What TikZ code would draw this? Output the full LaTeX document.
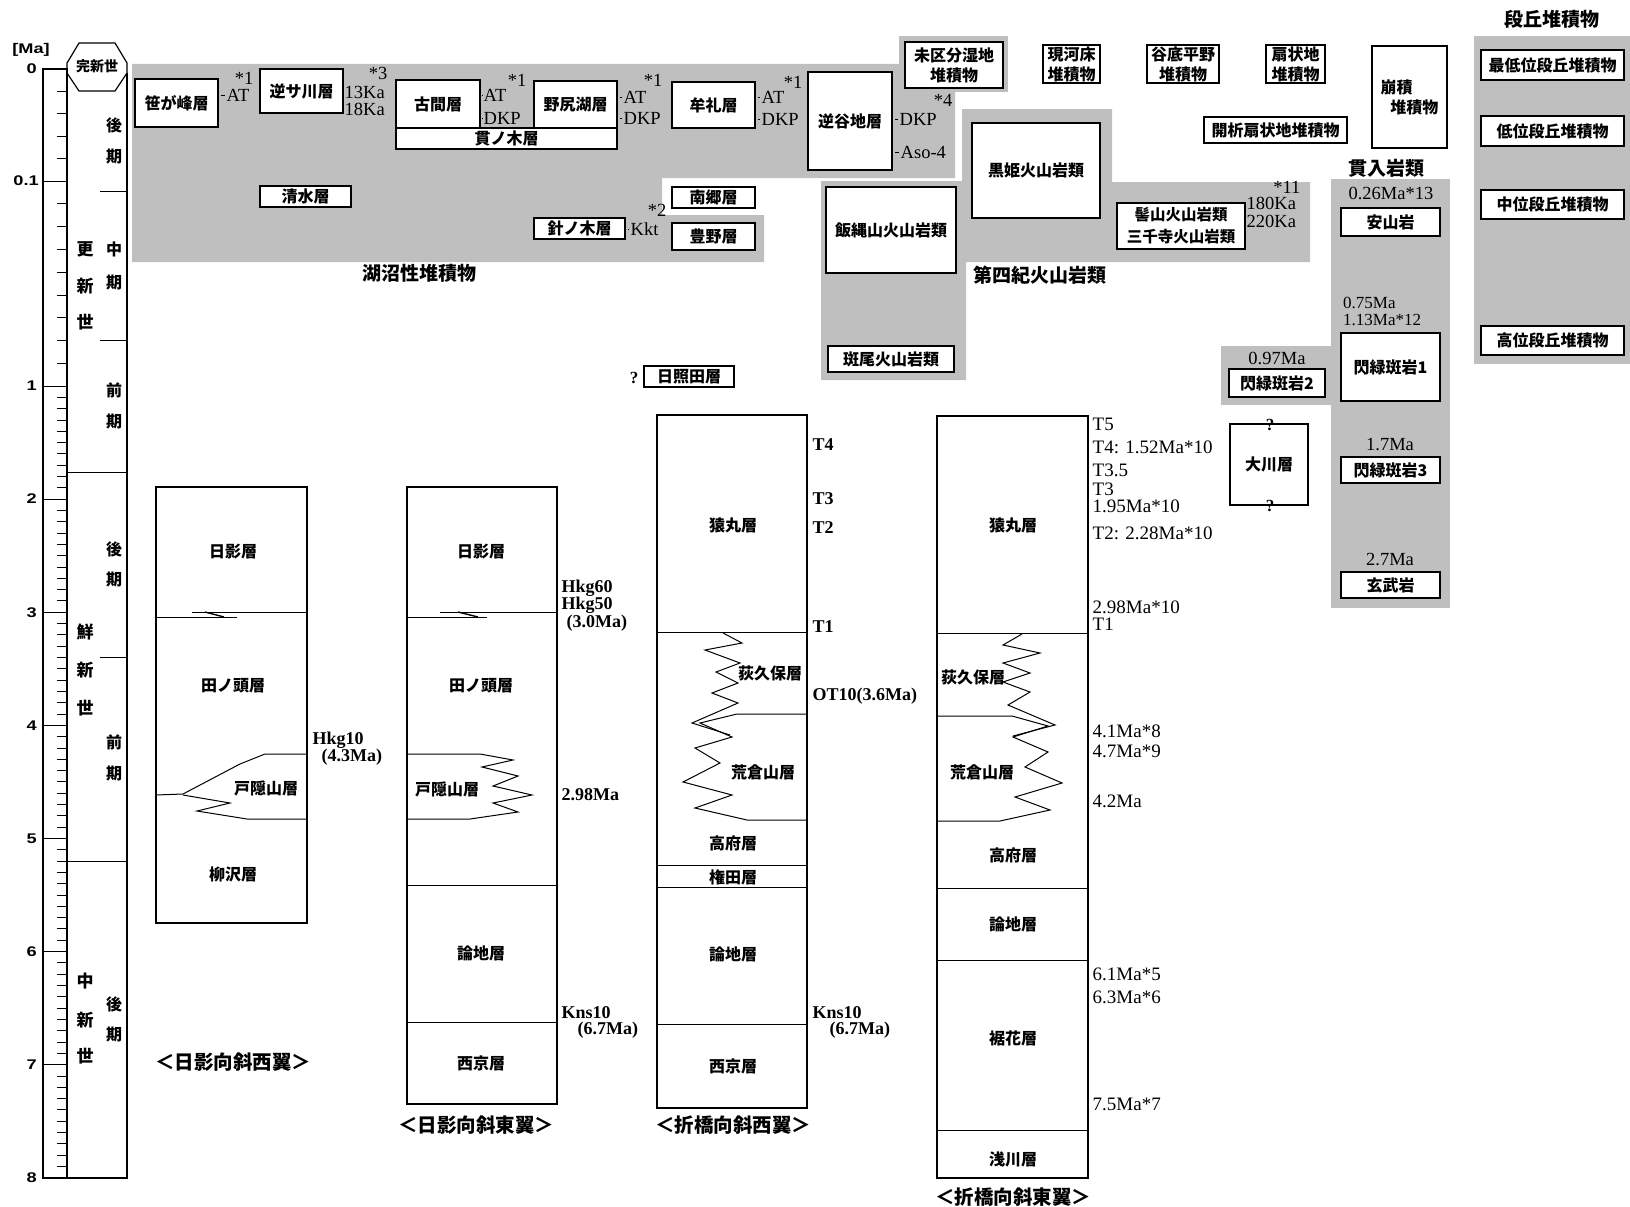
\documentclass[tikz,border=0pt]{standalone}
\usepackage{fontspec}
\setmainfont{Liberation Serif}
\newfontfamily\jp{Noto Sans CJK JP}
\newfontfamily\axf[FakeStretch=1.3]{Liberation Sans}
\newcommand\jpl{\jp\bfseries\fontsize{16}{20}\selectfont}
\newcommand\jpt{\jp\bfseries\fontsize{19}{22}\selectfont}
\newcommand\jpe{\jp\bfseries\fontsize{17}{20}\selectfont}
\newcommand\jpc{\jp\bfseries\fontsize{19.5}{22}\selectfont}
\newcommand\nmr{\rmfamily\fontsize{18.5}{20}\selectfont}
\newcommand\nmd{\rmfamily\fontsize{19}{21}\selectfont}
\newcommand\nmb{\rmfamily\bfseries\fontsize{18}{20}\selectfont}
\newcommand\axl{\axf\bfseries\fontsize{14}{16}\selectfont}
\newcommand\mybox[7][]{\node[bx,#1,minimum width={(#5-#3)*1pt},minimum height={(#6-#4)*1pt}] (#2) at ({(#3+#5)/2},{(#4+#6)/2}) {#7};}
\tikzset{
  bx/.style={draw, fill=white, line width=1.4pt, inner sep=0pt, font=\jpl, align=center},
  gr/.style={fill=black!25},
  lbl/.style={font=\jpl, inner sep=0pt},
  ttl/.style={font=\jpt, inner sep=0pt},
  eplbl/.style={font=\jpe, inner sep=0pt},
  captxt/.style={font=\jpc, inner sep=0pt},
  nr/.style={font=\nmr, anchor=west, inner sep=0.5pt},
  nrc/.style={font=\nmr, inner sep=0.5pt},
  nrs/.style={font=\rmfamily\fontsize{17}{18}\selectfont, anchor=west, inner sep=0pt},
  qm/.style={font=\rmfamily\bfseries\fontsize{17}{19}\selectfont, inner sep=0pt},
  nd/.style={font=\nmd, anchor=west, inner sep=0.5pt},
  nb/.style={font=\nmb, anchor=west, inner sep=0.5pt},
  axn/.style={font=\axl, anchor=east, inner sep=0pt},
  tk/.style={line width=0.8pt, shorten <=2pt, shorten >=1.5pt},
  col/.style={line width=1.2pt},
  ln/.style={line width=1pt},
}
\begin{document}
\begin{tikzpicture}[x=1pt,y=-1pt,line join=miter]
\useasboundingbox (0,0) rectangle (1630,1207);
% ---------- gray halftone areas ----------
\fill[gr] (132,64) -- (955,64) -- (955,178) -- (662,178) -- (662,215) -- (764,215) -- (764,262) -- (132,262) -- cycle;
\fill[gr] (821,181) -- (962,181) -- (962,109) -- (1112,109) -- (1112,182) -- (1310,182) -- (1310,262) -- (966,262) -- (966,380) -- (821,380) -- cycle;
\fill[gr] (899,36) rectangle (1008,92);
\fill[gr] (1221,346) rectangle (1334,405);
\fill[gr] (1331,179) rectangle (1450,608);
\fill[gr] (1474,36) rectangle (1630,364);
% ---------- time scale ----------
\draw[col] (43,69) rectangle (67,1178);
\draw[col] (67,73) -- (67,63) -- (79,43) -- (115,43) -- (127,63) -- (127,73) -- (115,91) -- (79,91) -- cycle;
\node[font=\jp\bfseries\fontsize{14}{16}\selectfont, inner sep=0pt] (kanshin) at (97,66) {完新世};
\draw[col] (127,73) -- (127,1178) -- (67,1178);
\draw[ln] (67,472) -- (127,472);
\draw[ln] (67,861) -- (127,861);
\draw[ln] (100,191) -- (127,191);
\draw[ln] (100,340) -- (127,340);
\draw[ln] (100,657) -- (127,657);
\foreach \t in {1,...,4} \draw[line width=0.8pt] (57,{69+22.4*\t}) -- (67,{69+22.4*\t});
\foreach \t in {1,...,8} \draw[line width=0.8pt] (57,{181+22.78*\t}) -- (67,{181+22.78*\t});
\foreach \i in {0,...,6} \foreach \j in {1,...,9} \draw[line width=0.8pt] (57,{386+113.1*\i+11.31*\j}) -- (67,{386+113.1*\i+11.31*\j});
\draw[line width=0.8pt] (43,181) -- (67,181);
\foreach \i in {0,...,6} \draw[line width=0.8pt] (43,{386+113.1*\i}) -- (67,{386+113.1*\i});
\node[axn] (ama) at (50,50) {[Ma]};
\node[axn] (a00) at (37,69) {0};
\node[axn] (a01) at (39,181) {0.1};
\foreach \i in {1,...,8} \node[axn] (ax\i) at (37,{386+113.1*(\i-1)}) {\i};
% epochs
\node[eplbl] (e1a) at (85,249) {更};
\node[eplbl] (e1b) at (85,286) {新};
\node[eplbl] (e1c) at (85,322) {世};
\node[eplbl] (e2a) at (85,632) {鮮};
\node[eplbl] (e2b) at (85,670) {新};
\node[eplbl] (e2c) at (85,708) {世};
\node[eplbl] (e3a) at (85,981) {中};
\node[eplbl] (e3b) at (85,1020) {新};
\node[eplbl] (e3c) at (85,1056) {世};
\node[lbl] (p1a) at (114,125) {後};
\node[lbl] (p1b) at (114,157) {期};
\node[lbl] (p2a) at (114,249) {中};
\node[lbl] (p2b) at (114,283) {期};
\node[lbl] (p3a) at (114,390) {前};
\node[lbl] (p3b) at (114,422) {期};
\node[lbl] (p4a) at (114,549) {後};
\node[lbl] (p4b) at (114,580) {期};
\node[lbl] (p5a) at (114,742) {前};
\node[lbl] (p5b) at (114,774) {期};
\node[lbl] (p6a) at (114,1004) {後};
\node[lbl] (p6b) at (114,1035) {期};
% ---------- lake deposits ----------
\mybox{sasa}{135}{79}{218}{127}{笹が峰層}
\node[nr] (sat) at (226,95) {AT};
\node[nrc] (s1) at (244,78) {*1};
\draw[tk] (sasa.east|-sat.west) -- (sat.west);
\mybox{sakasa}{260}{69}{343}{113}{逆サ川層}
\node[nr] (k13) at (344,92) {13Ka};
\node[nr] (k18) at (344,109) {18Ka};
\node[nrc] (s3) at (378,73) {*3};
\mybox{furuma}{396}{80}{480}{128}{古間層}
\mybox{nukinoki}{396}{128}{617}{149}{貫ノ木層}
\node[nr] (fat) at (483,95) {AT};
\node[nr] (fdkp) at (483,118) {DKP};
\node[nrc] (f1) at (517,80) {*1};
\draw[tk] (furuma.east|-fat.west) -- (fat.west);
\draw[tk] (furuma.east|-fdkp.west) -- (fdkp.west);
\mybox{nojiri}{534}{81}{617}{128}{野尻湖層}
\node[nr] (nat) at (623,97) {AT};
\node[nr] (ndkp) at (623,118) {DKP};
\node[nrc] (n1) at (653,80) {*1};
\draw[tk] (nojiri.east|-nat.west) -- (nat.west);
\draw[tk] (nojiri.east|-ndkp.west) -- (ndkp.west);
\mybox{mure}{672}{82}{755}{128}{牟礼層}
\node[nr] (mat) at (761,97) {AT};
\node[nr] (mdkp) at (761,119) {DKP};
\node[nrc] (m1) at (793,82) {*1};
\draw[tk] (mure.east|-mat.west) -- (mat.west);
\draw[tk] (mure.east|-mdkp.west) -- (mdkp.west);
\mybox{sakaya}{808}{72}{892}{170}{逆谷地層}
\node[nrc] (y4) at (943,100) {*4};
\node[nr] (ydkp) at (899,119) {DKP};
\node[nr] (yaso) at (900,152) {Aso-4};
\draw[tk] (sakaya.east|-ydkp.west) -- (ydkp.west);
\draw[tk] (sakaya.east|-yaso.west) -- (yaso.west);
\mybox{shimizu}{260}{186}{351}{207}{清水層}
\mybox{nango}{672}{187}{755}{208}{南郷層}
\mybox{toyono}{672}{223}{755}{250}{豊野層}
\mybox{harinoki}{534}{218}{625}{239}{針ノ木層}
\node[nr] (hkkt) at (630,229) {Kkt};
\node[nrc] (h2) at (657,210) {*2};
\draw[tk] (harinoki.east|-hkkt.west) -- (hkkt.west);
\node[ttl] (kosho) at (419,273) {湖沼性堆積物};
\mybox{hiteruda}{644}{366}{734}{387}{日照田層}
\node[qm] (q0) at (634,378) {?};
% ---------- volcanics ----------
\mybox{izuna}{826}{187}{956}{273}{飯縄山火山岩類}
\mybox{kurohime}{972}{123}{1100}{218}{黒姫火山岩類}
\mybox[font=\jp\bfseries\fontsize{15.5}{22}\selectfont]{motodori}{1117}{203}{1245}{249}{髻山火山岩類\\三千寺火山岩類}
\node[nrc, anchor=east] (v11) at (1301,187) {*11};
\node[nr] (v180) at (1246,203) {180Ka};
\node[nr] (v220) at (1246,221) {220Ka};
\node[ttl] (daiyon) at (1040,275) {第四紀火山岩類};
\mybox{madarao}{828}{346}{954}{372}{斑尾火山岩類}
% ---------- other deposits ----------
\mybox{mikubun}{905}{42}{1003}{88}{未区分湿地\\堆積物}
\mybox{genka}{1043}{45}{1100}{83}{現河床\\堆積物}
\mybox{kokutei}{1147}{45}{1219}{83}{谷底平野\\堆積物}
\mybox{senjo}{1266}{45}{1325}{83}{扇状地\\堆積物}
\mybox[align=left]{hoseki}{1372}{46}{1447}{148}{崩積\\\hspace*{0.6em}堆積物}
\mybox{kaiseki}{1204}{117}{1347}{143}{開析扇状地堆積物}
% terraces
\node[ttl] (dankyu) at (1552,19) {段丘堆積物};
\mybox{saitei}{1481}{50}{1624}{80}{最低位段丘堆積物}
\mybox{teii}{1481}{116}{1624}{146}{低位段丘堆積物}
\mybox{chuui}{1481}{190}{1624}{219}{中位段丘堆積物}
\mybox{koui}{1481}{326}{1624}{355}{高位段丘堆積物}
% intrusives
\node[ttl] (kannyu) at (1386,168) {貫入岩類};
\node[nrc] (i026) at (1391,193) {0.26Ma*13};
\mybox{anzan}{1341}{208}{1440}{236}{安山岩}
\node[nrs] (i075) at (1343,303) {0.75Ma};
\node[nrs] (i113) at (1343,320) {1.13Ma*12};
\mybox{sen1}{1341}{333}{1440}{401}{閃緑斑岩1}
\node[nrc] (i17) at (1390,445) {1.7Ma};
\mybox{sen3}{1341}{457}{1440}{483}{閃緑斑岩3}
\node[nrc] (i27) at (1390,560) {2.7Ma};
\mybox{genbu}{1341}{572}{1440}{598}{玄武岩}
\node[nrc] (i097) at (1277,358) {0.97Ma};
\mybox{sen2}{1229}{369}{1325}{397}{閃緑斑岩2}
\mybox{okawa}{1230}{424}{1308}{505}{大川層}
\node[qm] (q1) at (1270,425) {?};
\node[qm] (q2) at (1270,506) {?};
% ---------- column A ----------
\draw[col] (156,487) rectangle (307,923);
\draw[ln] (156,617) -- (237,617);
\draw[ln] (192,612) -- (307,612);
\draw[line width=1.4pt] (205,612) -- (224,617);
\draw[ln] (307,754) -- (265,754) -- (240,764) -- (183,794) -- (156,795);
\draw[ln] (183,795) -- (230,803) -- (197,811) -- (247,819) -- (307,819);
\node[lbl] (a-hikage) at (233,552) {日影層};
\node[lbl] (a-tanok) at (233,686) {田ノ頭層};
\node[lbl] (a-togak) at (266,788) {戸隠山層};
\node[lbl] (a-yanag) at (233,874) {柳沢層};
\node[nb] (hkg10) at (312,740) {Hkg10};
\node[nb] (hkg10a) at (321,757) {(4.3Ma)};
\node[captxt] (capA) at (233,1062) {＜日影向斜西翼＞};
% ---------- column B ----------
\draw[col] (407,487) rectangle (557,1104);
\draw[ln] (407,617) -- (487,617);
\draw[ln] (440,612) -- (557,612);
\draw[line width=1.4pt] (458,612) -- (478,617);
\draw[ln] (407,754) -- (480,754) -- (513,760) -- (482,767) -- (518,776) -- (493,786) -- (532,795) -- (493,803) -- (518,812) -- (470,819) -- (407,819);
\draw[ln] (407,885) -- (557,885);
\draw[ln] (407,1022) -- (557,1022);
\node[lbl] (b-hikage) at (481,552) {日影層};
\node[lbl] (b-tanok) at (481,686) {田ノ頭層};
\node[lbl] (b-togak) at (447,789) {戸隠山層};
\node[lbl] (b-ronchi) at (481,953) {論地層};
\node[lbl] (b-saikyo) at (481,1063) {西京層};
\node[nb] (hkg60) at (561,588) {Hkg60};
\node[nb] (hkg50) at (561,605) {Hkg50};
\node[nb] (hkg50a) at (566,623) {(3.0Ma)};
\node[nb] (b298) at (561,795) {2.98Ma};
\node[nb] (bkns) at (561,1013) {Kns10};
\node[nb] (bknsa) at (577,1030) {(6.7Ma)};
\node[captxt] (capB) at (476,1125) {＜日影向斜東翼＞};
% ---------- column C ----------
\draw[col] (657,415) rectangle (807,1108);
\draw[ln] (657,632) -- (807,632);
\draw[ln] (723,633) -- (742,643) -- (705,650) -- (740,663) -- (716,672) -- (738,683) -- (712,693) -- (738,703) -- (692,723) -- (730,735);
\draw[ln] (807,714) -- (737,714) -- (700,723) -- (732,737) -- (695,748) -- (720,763) -- (683,782) -- (732,795) -- (695,808) -- (747,820) -- (807,820);
\draw[ln] (657,865) -- (807,865);
\draw[ln] (657,887) -- (807,887);
\draw[ln] (657,1024) -- (807,1024);
\node[lbl] (c-saru) at (733,525) {猿丸層};
\node[lbl] (c-ogi) at (770,673) {荻久保層};
\node[lbl] (c-ara) at (763,772) {荒倉山層};
\node[lbl] (c-takafu) at (733,843) {高府層};
\node[lbl] (c-gonda) at (733,877) {権田層};
\node[lbl] (c-ronchi) at (733,954) {論地層};
\node[lbl] (c-saikyo) at (733,1066) {西京層};
\node[nb] (ct4) at (812,445) {T4};
\node[nb] (ct3) at (812,499) {T3};
\node[nb] (ct2) at (812,528) {T2};
\node[nb] (ct1) at (812,627) {T1};
\node[nb] (cot) at (812,696) {OT10(3.6Ma)};
\node[nb] (ckns) at (812,1013) {Kns10};
\node[nb] (cknsa) at (829,1030) {(6.7Ma)};
\node[captxt] (capC) at (733,1125) {＜折橋向斜西翼＞};
% ---------- column D ----------
\draw[col] (937,416) rectangle (1088,1178);
\draw[ln] (937,633) -- (1088,633);
\draw[ln] (1022,634) -- (1003,645) -- (1040,653) -- (1003,663) -- (1030,673) -- (1003,682) -- (1030,692) -- (1008,705) -- (1055,725) -- (1013,736);
\draw[ln] (937,716) -- (1012,716) -- (1048,726) -- (1013,737) -- (1048,752) -- (1025,767) -- (1062,783) -- (1015,797) -- (1050,810) -- (1000,821) -- (937,821);
\draw[ln] (937,888) -- (1088,888);
\draw[ln] (937,960) -- (1088,960);
\draw[ln] (937,1130) -- (1088,1130);
\node[lbl] (d-saru) at (1013,525) {猿丸層};
\node[lbl] (d-ogi) at (973,677) {荻久保層};
\node[lbl] (d-ara) at (982,772) {荒倉山層};
\node[lbl] (d-takafu) at (1013,855) {高府層};
\node[lbl] (d-ronchi) at (1013,924) {論地層};
\node[lbl] (d-susobana) at (1013,1038) {裾花層};
\node[lbl] (d-asakawa) at (1013,1159) {浅川層};
\node[nd] (dt5) at (1092,424) {T5};
\node[nd] (dt4) at (1092,447) {T4: 1.52Ma*10};
\node[nd] (dt35) at (1092,470) {T3.5};
\node[nd] (dt3) at (1092,489) {T3};
\node[nd] (d195) at (1092,506) {1.95Ma*10};
\node[nd] (dt2) at (1092,533) {T2: 2.28Ma*10};
\node[nd] (d298) at (1092,607) {2.98Ma*10};
\node[nd] (dt1) at (1092,624) {T1};
\node[nd] (d41) at (1092,731) {4.1Ma*8};
\node[nd] (d47) at (1092,751) {4.7Ma*9};
\node[nd] (d42) at (1092,801) {4.2Ma};
\node[nd] (d61) at (1092,974) {6.1Ma*5};
\node[nd] (d63) at (1092,997) {6.3Ma*6};
\node[nd] (d75) at (1092,1104) {7.5Ma*7};
\node[captxt] (capD) at (1013,1197) {＜折橋向斜東翼＞};
\end{tikzpicture}
\end{document}
